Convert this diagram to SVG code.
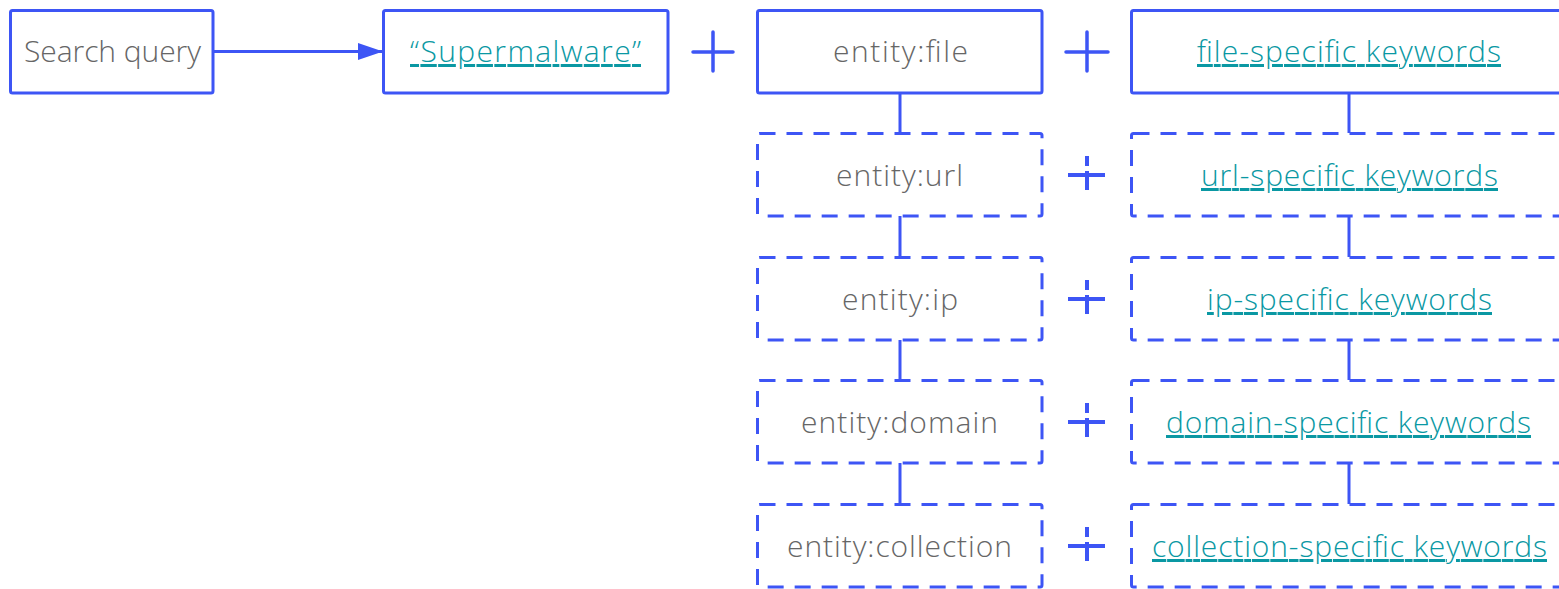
<svg xmlns="http://www.w3.org/2000/svg" width="1559" height="589" viewBox="0 0 1559 589">
  <style>
    .box { fill: #ffffff; stroke: #3d55f5; stroke-width: 3; }
    .opt { stroke-dasharray: 16 11; }
    .lbl { font-family: "Open Sans", "Noto Sans", sans-serif; font-weight: 350; font-size: 30px; fill: #666666; }
    .kw { font-family: "Open Sans", "Noto Sans", sans-serif; font-weight: 350; font-size: 30px; fill: #0a98a3; text-decoration: underline; text-decoration-thickness: 3px; }
    .wire { fill: none; stroke: #3d55f5; stroke-width: 3; }
    .plus { fill: none; stroke: #3d55f5; stroke-width: 3.5; stroke-linecap: round; }
    .plus-opt { fill: none; stroke: #3d55f5; stroke-width: 4; }
  </style>
  <defs>
    <marker id="arrow" viewBox="0 0 25 17" refX="25" refY="8.5" markerWidth="25" markerHeight="17" markerUnits="userSpaceOnUse" orient="auto">
      <path d="M0,0 L25,8.5 L0,17 Z" fill="#3d55f5"/>
    </marker>
  </defs>
  <rect width="1559" height="589" fill="#ffffff"/>

  <!-- connectors -->
  <g id="connectors">
    <line class="wire" x1="213" y1="51.5" x2="383" y2="51.5" marker-end="url(#arrow)"/>
    <!-- entity chain -->
    <line class="wire" x1="900" y1="93" x2="900" y2="133"/>
    <line class="wire" x1="900" y1="216" x2="900" y2="257"/>
    <line class="wire" x1="900" y1="340" x2="900" y2="380"/>
    <line class="wire" x1="900" y1="463" x2="900" y2="504"/>
    <!-- keyword chain -->
    <line class="wire" x1="1349" y1="93" x2="1349" y2="133"/>
    <line class="wire" x1="1349" y1="216" x2="1349" y2="257"/>
    <line class="wire" x1="1349" y1="340" x2="1349" y2="380"/>
    <line class="wire" x1="1349" y1="463" x2="1349" y2="504"/>
  </g>

  <!-- plus operators: solid for the required row, broken for optional rows -->
  <g id="operators">
    <path class="plus" d="M693,52 H733 M713,32 V71"/>
    <path class="plus" d="M1066,52 H1108 M1087,32 V71"/>
    <path class="plus-opt" d="M1068,175 H1105 M1087,156 V166 M1087,171 V190"/>
    <path class="plus-opt" d="M1068,299 H1105 M1087,280 V290 M1087,295 V314"/>
    <path class="plus-opt" d="M1068,422 H1105 M1087,403 V413 M1087,418 V437"/>
    <path class="plus-opt" d="M1068,546 H1105 M1087,527 V537 M1087,542 V561"/>
  </g>

  <g id="search-query">
    <rect class="box" x="10.5" y="10.5" width="202.5" height="82.5" rx="2"/>
    <text class="lbl" x="24" y="62" textLength="177">Search query</text>
  </g>

  <g id="term">
    <rect class="box" x="383.5" y="10.5" width="284.5" height="82.5" rx="2"/>
    <text class="kw" x="410" y="62" textLength="231">“Supermalware”</text>
  </g>

  <g id="entity-file">
    <rect class="box" x="757.5" y="10.5" width="284.5" height="82.5" rx="2"/>
    <text class="lbl" x="833" y="62" textLength="135">entity:file</text>
  </g>
  <g id="kw-file">
    <rect class="box" x="1131.5" y="10.5" width="436" height="82.5" rx="2"/>
    <text class="kw" x="1197" y="62" textLength="304">file-specific keywords</text>
  </g>

  <g id="entity-url">
    <rect class="box opt" x="757.5" y="133.5" width="284.5" height="82.5" rx="2"/>
    <text class="lbl" x="836" y="186" textLength="127">entity:url</text>
  </g>
  <g id="kw-url">
    <rect class="box opt" x="1131.5" y="133.5" width="436" height="82.5" rx="2"/>
    <text class="kw" x="1201" y="186" textLength="297">url-specific keywords</text>
  </g>

  <g id="entity-ip">
    <rect class="box opt" x="757.5" y="257.5" width="284.5" height="82.5" rx="2"/>
    <text class="lbl" x="842" y="310" textLength="116">entity:ip</text>
  </g>
  <g id="kw-ip">
    <rect class="box opt" x="1131.5" y="257.5" width="436" height="82.5" rx="2"/>
    <text class="kw" x="1207" y="310" textLength="285">ip-specific keywords</text>
  </g>

  <g id="entity-domain">
    <rect class="box opt" x="757.5" y="380.5" width="284.5" height="82.5" rx="2"/>
    <text class="lbl" x="801" y="433" textLength="197">entity:domain</text>
  </g>
  <g id="kw-domain">
    <rect class="box opt" x="1131.5" y="380.5" width="436" height="82.5" rx="2"/>
    <text class="kw" x="1166" y="433" textLength="365">domain-specific keywords</text>
  </g>

  <g id="entity-collection">
    <rect class="box opt" x="757.5" y="504.5" width="284.5" height="82.5" rx="2"/>
    <text class="lbl" x="787" y="557" textLength="225">entity:collection</text>
  </g>
  <g id="kw-collection">
    <rect class="box opt" x="1131.5" y="504.5" width="436" height="82.5" rx="2"/>
    <text class="kw" x="1152" y="557" textLength="395">collection-specific keywords</text>
  </g>
</svg>
